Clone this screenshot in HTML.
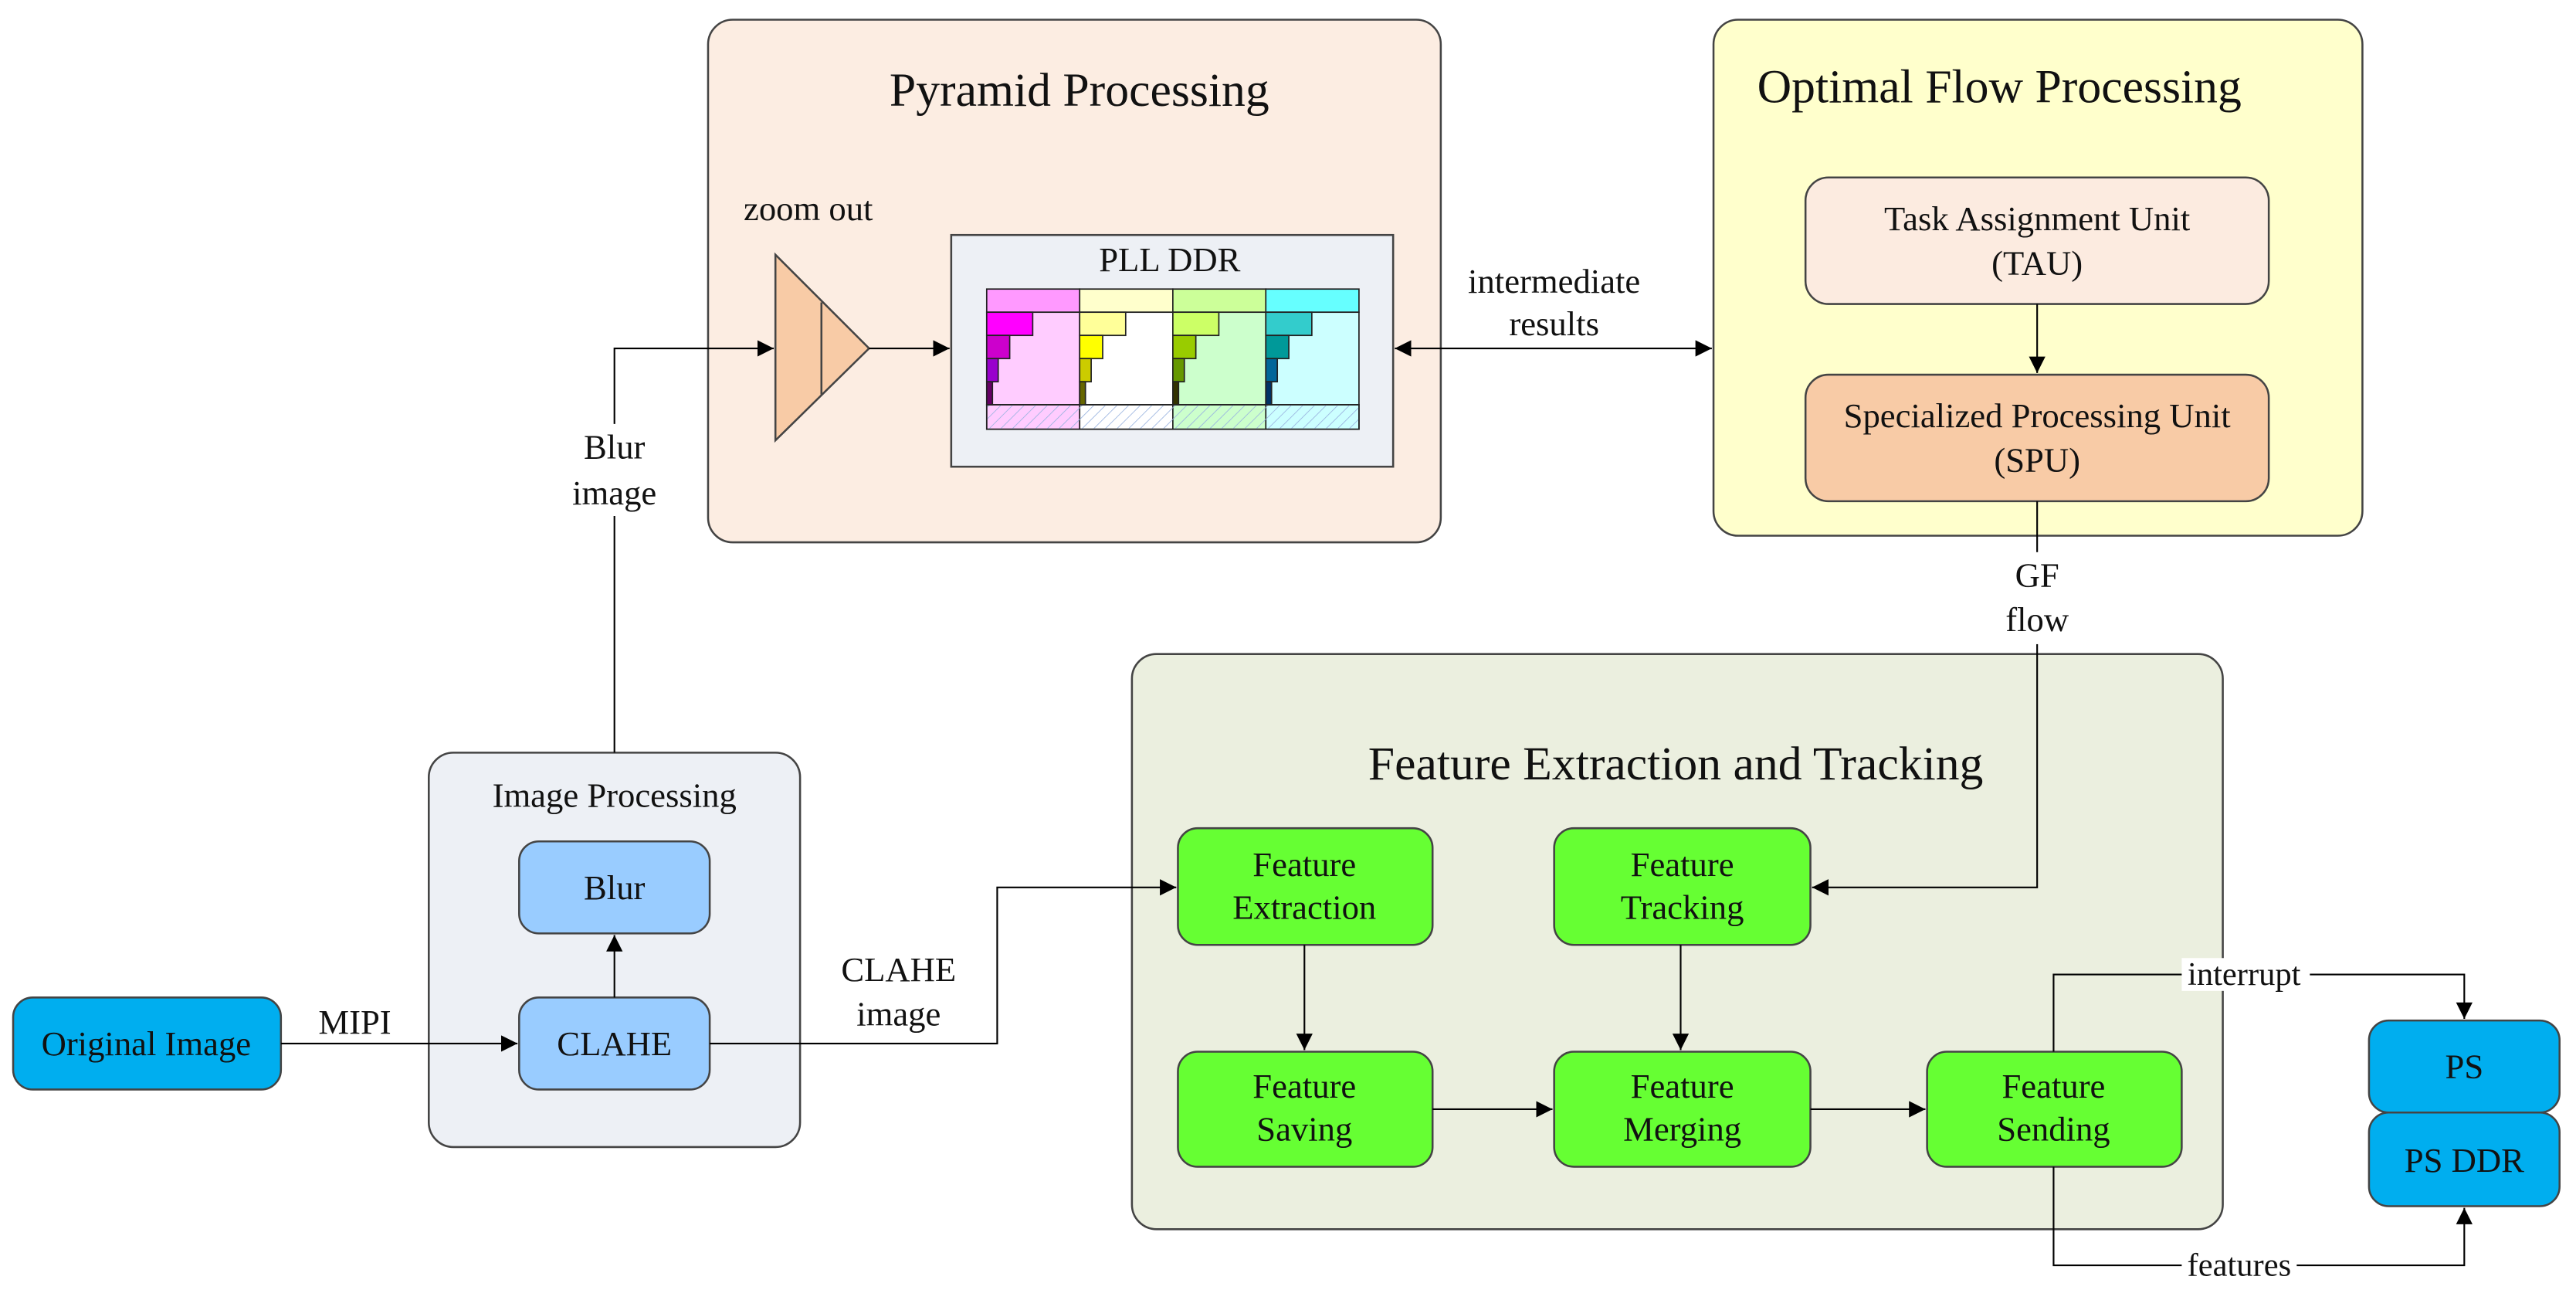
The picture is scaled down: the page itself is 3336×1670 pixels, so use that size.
<!DOCTYPE html>
<html><head><meta charset="utf-8"><style>html,body{margin:0;padding:0;background:#fff}svg{display:block}text{font-family:"Liberation Serif",serif;fill:#111}</style></head><body>
<svg width="3336" height="1670" viewBox="0 0 1568 785" preserveAspectRatio="none" xmlns="http://www.w3.org/2000/svg">
<defs>
<marker id="a" viewBox="0 0 10 10" refX="10" refY="5" markerWidth="10" markerHeight="10" markerUnits="userSpaceOnUse" orient="auto-start-reverse"><path d="M0,0 L10,5 L0,10 z" fill="#000"/></marker>
<pattern id="h" width="5" height="5" patternUnits="userSpaceOnUse" patternTransform="rotate(45)"><line x1="0" y1="0" x2="0" y2="5" stroke="#9ab4e0" stroke-width="0.8"/></pattern>
</defs>
<g stroke="#444" stroke-width="1.2">
<rect x="431" y="12" width="446" height="318" rx="15" fill="#fcede2"/>
<rect x="1043" y="12" width="395" height="314" rx="15" fill="#ffffcc"/>
<rect x="689" y="398" width="664" height="350" rx="15" fill="#ebefdf"/>
<rect x="261" y="458" width="226" height="240" rx="15" fill="#edf0f5"/>
<rect x="1099" y="108" width="282" height="77" rx="14" fill="#fcebe0"/>
<rect x="1099" y="228" width="282" height="77" rx="14" fill="#f8cba6"/>
<rect x="579" y="143" width="269" height="141" fill="#edf0f5"/>
<polygon points="472,155 472,268 529,212" fill="#f8cba6"/>
<line x1="500" y1="184" x2="500" y2="240"/>
<rect x="316" y="512" width="116" height="56" rx="12" fill="#99ccff"/>
<rect x="316" y="607" width="116" height="56" rx="12" fill="#99ccff"/>
<rect x="8" y="607" width="163" height="56" rx="12" fill="#00aeef"/>
<rect x="1442" y="621" width="116" height="56" rx="12" fill="#00aeef"/>
<rect x="1442" y="677" width="116" height="57" rx="12" fill="#00aeef"/>
<g fill="#66ff33">
<rect x="717" y="504" width="155" height="71" rx="12"/>
<rect x="946" y="504" width="156" height="71" rx="12"/>
<rect x="717" y="640" width="155" height="70" rx="12"/>
<rect x="946" y="640" width="156" height="70" rx="12"/>
<rect x="1173" y="640" width="155" height="70" rx="12"/>
</g>
</g>
<!-- grid -->
<g stroke="#222" stroke-width="0.8">
<rect x="600.6" y="175.9" width="56.6" height="14.1" fill="#ff99ff"/>
<rect x="657.2" y="175.9" width="56.7" height="14.1" fill="#ffffcc"/>
<rect x="713.9" y="175.9" width="56.6" height="14.1" fill="#ccff99"/>
<rect x="770.5" y="175.9" width="56.7" height="14.1" fill="#66ffff"/>
<rect x="600.6" y="190" width="56.6" height="56.3" fill="#ffccff"/>
<rect x="657.2" y="190" width="56.7" height="56.3" fill="#ffffff"/>
<rect x="713.9" y="190" width="56.6" height="56.3" fill="#ccffcc"/>
<rect x="770.5" y="190" width="56.7" height="56.3" fill="#ccffff"/>
<rect x="600.6" y="246.3" width="56.6" height="14.9" fill="#ffccff"/>
<rect x="657.2" y="246.3" width="56.7" height="14.9" fill="#ffffff"/>
<rect x="713.9" y="246.3" width="56.6" height="14.9" fill="#ccffcc"/>
<rect x="770.5" y="246.3" width="56.7" height="14.9" fill="#ccffff"/>
<rect x="600.6" y="246.3" width="226.6" height="14.9" fill="url(#h)"/>
<rect x="600.6" y="190" width="28" height="14.1" fill="#ff00ff"/><rect x="600.6" y="204.1" width="14" height="14.1" fill="#cc00cc"/><rect x="600.6" y="218.2" width="7" height="14.1" fill="#9900cc"/><rect x="600.6" y="232.3" width="3.5" height="14" fill="#660066"/>
<rect x="657.2" y="190" width="28" height="14.1" fill="#ffff99"/><rect x="657.2" y="204.1" width="14" height="14.1" fill="#ffff00"/><rect x="657.2" y="218.2" width="7" height="14.1" fill="#cccc00"/><rect x="657.2" y="232.3" width="3.5" height="14" fill="#666600"/>
<rect x="713.9" y="190" width="28" height="14.1" fill="#ccff66"/><rect x="713.9" y="204.1" width="14" height="14.1" fill="#99cc00"/><rect x="713.9" y="218.2" width="7" height="14.1" fill="#669900"/><rect x="713.9" y="232.3" width="3.5" height="14" fill="#333300"/>
<rect x="770.5" y="190" width="28" height="14.1" fill="#33cccc"/><rect x="770.5" y="204.1" width="14" height="14.1" fill="#009999"/><rect x="770.5" y="218.2" width="7" height="14.1" fill="#006699"/><rect x="770.5" y="232.3" width="3.5" height="14" fill="#003366"/>
</g>
<!-- connectors -->
<g stroke="#000" stroke-width="1" fill="none">
<polyline points="374,458 374,212 471,212" marker-end="url(#a)"/>
<line x1="529" y1="212" x2="578" y2="212" marker-end="url(#a)"/>
<line x1="849" y1="212" x2="1042" y2="212" marker-start="url(#a)" marker-end="url(#a)"/>
<line x1="1240" y1="185" x2="1240" y2="227" marker-end="url(#a)"/>
<polyline points="1240,305 1240,540 1103,540" marker-end="url(#a)"/>
<line x1="374" y1="607" x2="374" y2="569" marker-end="url(#a)"/>
<line x1="171" y1="635" x2="315" y2="635" marker-end="url(#a)"/>
<polyline points="432,635 607,635 607,540 716,540" marker-end="url(#a)"/>
<line x1="794" y1="575" x2="794" y2="639" marker-end="url(#a)"/>
<line x1="1023" y1="575" x2="1023" y2="639" marker-end="url(#a)"/>
<line x1="872" y1="675" x2="945" y2="675" marker-end="url(#a)"/>
<line x1="1102" y1="675" x2="1172" y2="675" marker-end="url(#a)"/>
<polyline points="1250,640 1250,593 1500,593 1500,620" marker-end="url(#a)"/>
<polyline points="1250,710 1250,770 1500,770 1500,735" marker-end="url(#a)"/>
</g>
<!-- label backgrounds -->
<g fill="#fff">
<rect x="350" y="258" width="48" height="56"/>
<rect x="1215" y="336" width="50" height="56"/>
<rect x="1328" y="583" width="78" height="20"/>
<rect x="1328" y="760" width="70" height="20"/>
</g>
<g text-anchor="middle" dominant-baseline="central">
<text x="657" y="55" font-size="29">Pyramid Processing</text>
<text x="1217" y="53" font-size="29">Optimal Flow Processing</text>
<text x="1020" y="465" font-size="29">Feature Extraction and Tracking</text>
<text x="374" y="484" font-size="21">Image Processing</text>
<text x="492" y="127" font-size="21">zoom out</text>
<text x="712" y="158" font-size="21">PLL DDR</text>
<text x="1240" y="133" font-size="21">Task Assignment Unit</text>
<text x="1240" y="160" font-size="21">(TAU)</text>
<text x="1240" y="253" font-size="21">Specialized Processing Unit</text>
<text x="1240" y="280" font-size="21">(SPU)</text>
<text x="946" y="171" font-size="21">intermediate</text>
<text x="946" y="197" font-size="21">results</text>
<text x="374" y="272" font-size="21">Blur</text>
<text x="374" y="300" font-size="21">image</text>
<text x="1240" y="350" font-size="21">GF</text>
<text x="1240" y="377" font-size="21">flow</text>
<text x="374" y="540" font-size="21">Blur</text>
<text x="374" y="635" font-size="21">CLAHE</text>
<text x="89" y="635" font-size="21">Original Image</text>
<text x="216" y="622" font-size="21">MIPI</text>
<text x="547" y="590" font-size="21">CLAHE</text>
<text x="547" y="617" font-size="21">image</text>
<text x="794" y="526" font-size="21">Feature</text><text x="794" y="552" font-size="21">Extraction</text>
<text x="1024" y="526" font-size="21">Feature</text><text x="1024" y="552" font-size="21">Tracking</text>
<text x="794" y="661" font-size="21">Feature</text><text x="794" y="687" font-size="21">Saving</text>
<text x="1024" y="661" font-size="21">Feature</text><text x="1024" y="687" font-size="21">Merging</text>
<text x="1250" y="661" font-size="21">Feature</text><text x="1250" y="687" font-size="21">Sending</text>
<text x="1366" y="593" font-size="20">interrupt</text>
<text x="1363" y="770" font-size="20">features</text>
<text x="1500" y="649" font-size="21">PS</text>
<text x="1500" y="706" font-size="21">PS DDR</text>
</g>
</svg>
</body></html>
